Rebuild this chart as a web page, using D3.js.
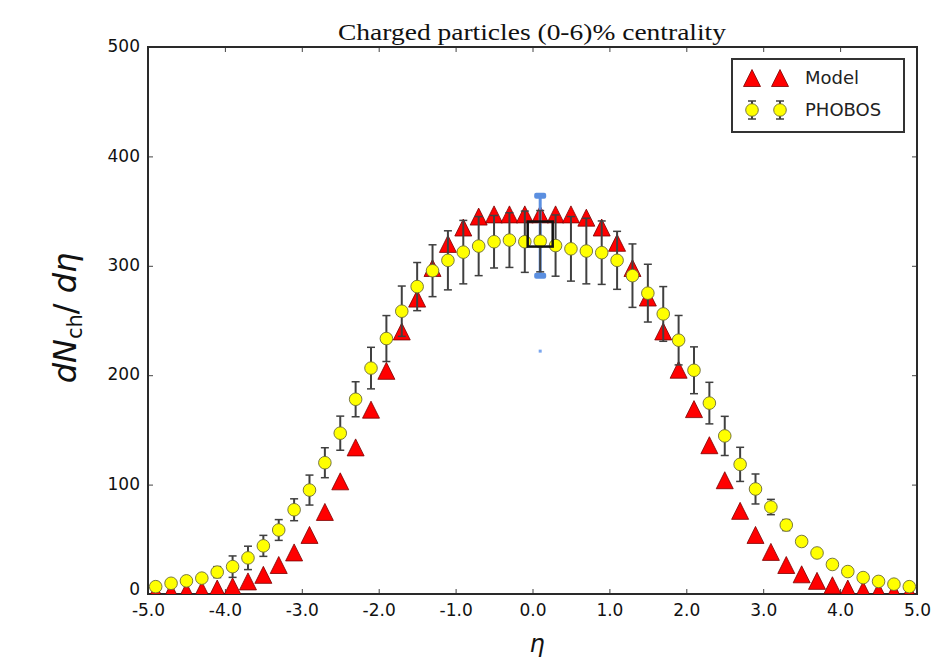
<!DOCTYPE html>
<html><head><meta charset="utf-8">
<script src="https://cdn.jsdelivr.net/npm/d3@7"></script>
<style>body{margin:0;background:#fff;} svg{display:block}</style>
</head><body><svg id="c" width="943" height="664"></svg>
<script>
const eta = [-4.9,-4.7,-4.5,-4.3,-4.1,-3.9,-3.7,-3.5,-3.3,-3.1,-2.9,-2.7,-2.5,-2.3,-2.1,-1.9,-1.7,-1.5,-1.3,-1.1,-0.9,-0.7,-0.5,-0.3,-0.1,
             0.1,0.3,0.5,0.7,0.9,1.1,1.3,1.5,1.7,1.9,2.1,2.3,2.5,2.7,2.9,3.1,3.3,3.5,3.7,3.9,4.1,4.3,4.5,4.7,4.9];
const modelVals = [1.5,2,2.5,3.5,5,7,11.5,17.5,26.5,38,54,75,103,134,168.5,204,240,270,298,320,335,345,347,347,347,
                   347,347,347,344,335,321,298,271,240,205,169,136,104,76,54,38.5,26.5,18,12,8,5,3.5,2.5,2,1.5];
const phobosVals = [6.7,9.8,12,14.5,20,25,33,44,58.5,77,95,120,147,178,206.5,233.5,258.5,281,295.5,305,312.5,318,322,323.5,322,
                    322.5,318.5,315.5,313.5,312,305,291,275,256,232,204.5,174.5,144.5,118.5,96,79.5,63,48,37.5,27,20.5,15,11.5,9,6.7];
const phobosErr = [2,2.5,3,3.5,5,9.8,10.7,9.6,9.5,10,13.7,13.7,15.6,16,19,21,23,22,23.7,27,29,27,24,25,28,
                   28,28,29.5,30,29,26.5,29,26.4,25,22.6,21.4,19,17.9,15.6,13.7,7,5,4,4,3.5,3,2.5,2,2,1.5];
const xTicks = [-5,-4,-3,-2,-1,0,1,2,3,4,5];
const yTicks = [0,100,200,300,400,500];
const titleText = "Charged particles (0-6)% centrality";
const seriesNames = ["Model","PHOBOS"];
// highlighted (selected) point overlay
const hlEta = [0.1];
const hlLow = [291];
const hlHigh = [364];
const hlBox = [329];
const hlDot = [222];

const svg = d3.select("#c");
const L = 148, R = 917, T = 47, B = 594;
const x = d3.scaleLinear().domain([-5,5]).range([L,R]);
const y = d3.scaleLinear().domain([0,500]).range([B,T]);

svg.append("rect").attr("width",943).attr("height",664).attr("fill","#fff");

svg.append("defs").append("clipPath").attr("id","clip")
  .append("rect").attr("x",L).attr("y",T).attr("width",R-L).attr("height",B-T);

const fmt = d => d.toFixed(1);
const tickFont = "DejaVu Sans, sans-serif";

// axes
const gB = svg.append("g").attr("transform",`translate(0,${B})`)
  .call(d3.axisBottom(x).tickValues(xTicks).tickFormat(fmt).tickSizeInner(-5).tickSizeOuter(0).tickPadding(10));
const gT = svg.append("g").attr("transform",`translate(0,${T})`)
  .call(d3.axisTop(x).tickValues(xTicks).tickFormat("").tickSizeInner(-5).tickSizeOuter(0));
const gL = svg.append("g").attr("transform",`translate(${L},0)`)
  .call(d3.axisLeft(y).tickValues(yTicks).tickFormat(d3.format("d")).tickSizeInner(-5).tickSizeOuter(0).tickPadding(8));
const gR = svg.append("g").attr("transform",`translate(${R},0)`)
  .call(d3.axisRight(y).tickValues(yTicks).tickFormat("").tickSizeInner(-5).tickSizeOuter(0));
[gB,gT,gL,gR].forEach(g=>{
  g.select(".domain").remove();
  g.selectAll(".tick line").attr("stroke","#444").attr("stroke-width",1);
  g.selectAll("text").attr("font-family",tickFont).attr("font-size",17).attr("fill","#111");
});
gL.selectAll(".tick text").attr("dy",d => d === 0 ? "0.02em" : "0.28em");

// frame
svg.append("rect").attr("x",L).attr("y",T).attr("width",R-L).attr("height",B-T)
  .attr("fill","none").attr("stroke","#2a2a2a").attr("stroke-width",2);

const plot = svg.append("g").attr("clip-path","url(#clip)");

// model triangles
const tri = (w,h) => `M0,${-h/2}L${w/2},${h/2}L${-w/2},${h/2}Z`;
plot.selectAll(".tri").data(eta.map((e,i)=>({e,v:modelVals[i]}))).enter()
  .append("path").attr("d",tri(17,17))
  .attr("transform",d=>`translate(${x(d.e)},${y(d.v)})`)
  .attr("fill","#ff0000").attr("stroke","#7a0000").attr("stroke-width",0.8);

// highlight blue error bar
const hl = hlEta.map((e,i)=>({e,lo:hlLow[i],hi:hlHigh[i],box:hlBox[i],dot:hlDot[i]}));
plot.selectAll(".hlbar").data(hl).enter().append("line")
  .attr("x1",d=>x(d.e)).attr("x2",d=>x(d.e)).attr("y1",d=>y(d.lo)).attr("y2",d=>y(d.hi))
  .attr("stroke","#5b8fe0").attr("stroke-width",3);
hl.forEach(d=>{
  [d.lo,d.hi].forEach(v=>{
    plot.append("rect").attr("x",x(d.e)-6).attr("y",y(v)-3).attr("width",12).attr("height",6)
      .attr("rx",2).attr("fill","#5b8fe0");
  });
  plot.append("rect").attr("x",x(d.e)-1.5).attr("y",y(d.dot)-1.5).attr("width",3).attr("height",3)
    .attr("fill","#7aa6ee");
});

// PHOBOS error bars
const ph = eta.map((e,i)=>({e,v:phobosVals[i],err:phobosErr[i]}));
const eb = plot.selectAll(".eb").data(ph).enter().append("g");
eb.append("line").attr("x1",d=>x(d.e)).attr("x2",d=>x(d.e))
  .attr("y1",d=>y(d.v-d.err)).attr("y2",d=>y(d.v+d.err))
  .attr("stroke","#404040").attr("stroke-width",2);
eb.append("line").attr("x1",d=>x(d.e)-4).attr("x2",d=>x(d.e)+4)
  .attr("y1",d=>y(d.v-d.err)).attr("y2",d=>y(d.v-d.err)).attr("stroke","#404040").attr("stroke-width",1.5);
eb.append("line").attr("x1",d=>x(d.e)-4).attr("x2",d=>x(d.e)+4)
  .attr("y1",d=>y(d.v+d.err)).attr("y2",d=>y(d.v+d.err)).attr("stroke","#404040").attr("stroke-width",1.5);
plot.selectAll(".pc").data(ph).enter().append("circle")
  .attr("cx",d=>x(d.e)).attr("cy",d=>y(d.v)).attr("r",6.3)
  .attr("fill","#ffff00").attr("stroke","#6a6a3a").attr("stroke-width",0.9);

// selection square
plot.selectAll(".hlbox").data(hl).enter().append("rect")
  .attr("x",d=>x(d.e)-12.5).attr("y",d=>y(d.box)-12.5).attr("width",25).attr("height",25)
  .attr("fill","none").attr("stroke","#111").attr("stroke-width",2.5);

// title
svg.append("text").attr("x",532).attr("y",40).attr("text-anchor","middle")
  .attr("font-family","Liberation Serif, serif").attr("font-size",24).attr("fill","#111")
  .attr("textLength",388).attr("lengthAdjust","spacingAndGlyphs")
  .text(titleText);

// axis labels
svg.append("text").attr("x",537).attr("y",652).attr("text-anchor","middle")
  .attr("font-family","DejaVu Sans, sans-serif").attr("font-style","italic").attr("font-size",24)
  .attr("fill","#111").text("η");
const yl = svg.append("text").attr("transform","translate(76,318) rotate(-90)").attr("text-anchor","middle")
  .attr("font-family","DejaVu Sans, sans-serif").attr("font-size",32).attr("fill","#111");
yl.append("tspan").attr("font-style","italic").text("dN");
yl.append("tspan").attr("font-size",21).attr("dy",6).text("ch");
yl.append("tspan").attr("dy",-6).text("/");
yl.append("tspan").attr("font-style","italic").text(" dη");

// legend
const lg = svg.append("g");
lg.append("rect").attr("x",732).attr("y",59).attr("width",172).attr("height",73)
  .attr("fill","#fff").attr("stroke","#333").attr("stroke-width",2);
const lgX = [752,780];
lgX.forEach(px=>{
  lg.append("path").attr("d",tri(17,17)).attr("transform",`translate(${px},78)`)
    .attr("fill","#ff0000").attr("stroke","#7a0000").attr("stroke-width",0.8);
  lg.append("line").attr("x1",px).attr("x2",px).attr("y1",101).attr("y2",119).attr("stroke","#404040").attr("stroke-width",2);
  [101,119].forEach(yy=>lg.append("line").attr("x1",px-4).attr("x2",px+4).attr("y1",yy).attr("y2",yy)
    .attr("stroke","#404040").attr("stroke-width",1.5));
  lg.append("circle").attr("cx",px).attr("cy",110).attr("r",6.3)
    .attr("fill","#ffff00").attr("stroke","#6a6a3a").attr("stroke-width",0.9);
});
seriesNames.forEach((n,i)=>{
  lg.append("text").attr("x",805).attr("y",[78,110][i]).attr("dy","0.35em")
    .attr("font-family","DejaVu Sans, sans-serif").attr("font-size",18).attr("fill","#222").text(n);
});
</script></body></html>
